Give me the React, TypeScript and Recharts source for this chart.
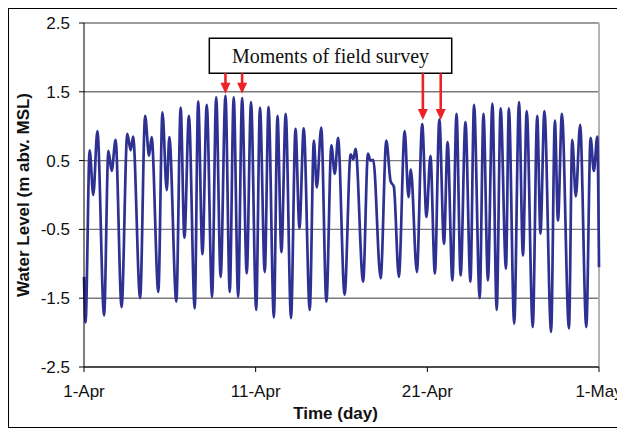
import React from 'react';
import {
  LineChart,
  Line,
  XAxis,
  YAxis,
  CartesianGrid,
  ReferenceLine,
  ReferenceArea,
  ReferenceDot,
} from 'recharts';

// time in days since 1-Apr, read at each turning point of the trace
const days = [
  0.0, 0.09, 0.33, 0.54, 0.78, 1.17, 1.42, 1.61, 1.84, 2.19,
  2.52, 2.72, 2.86, 3.27, 3.56, 3.79, 3.94, 4.33, 4.57, 4.82,
  4.97, 5.38, 5.63, 5.85, 6.11, 6.45, 6.65, 6.9, 7.15, 7.46,
  7.7, 7.96, 8.24, 8.49, 8.72, 8.98, 9.21, 9.48, 9.73, 10.03,
  10.25, 10.53, 10.75, 11.06, 11.27, 11.5, 11.75, 12.06, 12.32, 12.55,
  12.8, 13.15, 13.39, 13.56, 13.82, 14.12, 14.41, 14.61, 14.8, 15.18,
  15.53, 15.69, 15.82, 16.26, 16.54, 16.69, 16.85, 17.28, 17.61, 17.86,
  18.05, 18.34, 18.68, 18.9, 19.04, 19.39, 19.7, 19.95, 20.18, 20.44,
  20.7, 20.97, 21.18, 21.46, 21.7, 21.94, 22.22, 22.51, 22.72, 23.05,
  23.27, 23.53, 23.79, 24.04, 24.27, 24.58, 24.75, 25.06, 25.34, 25.57,
  25.79, 26.14, 26.4, 26.59, 26.82, 27.21, 27.43, 27.61, 27.84, 28.25,
  28.44, 28.65, 28.9, 29.26, 29.51, 29.7, 29.9, 30.0,
];

// water level (m abv. MSL)
const level = [
  -1.19, -1.85, 0.65, 0.0, 0.93, -1.75, 0.64, 0.35, 0.8, -1.63,
  0.89, 0.65, 0.85, -1.5, 1.15, 0.57, 0.84, -1.41, 1.2, 0.07,
  0.84, -1.55, 1.27, -0.62, 1.15, -1.65, 1.36, -0.86, 1.31, -1.48,
  1.42, -1.19, 1.44, -1.41, 1.42, -1.48, 1.41, -1.14, 1.35, -1.67,
  1.27, -1.12, 1.28, -1.78, 1.15, -0.83, 1.18, -1.79, 0.96, -0.48,
  0.97, -1.67, 0.79, 0.11, 0.98, -1.55, 0.72, 0.31, 0.83, -1.45,
  0.59, 0.52, 0.67, -1.26, 0.6, 0.5, 0.51, -1.21, 0.79, 0.2,
  0.12, -1.19, 0.93, -0.03, 0.37, -1.12, 1.03, -0.32, 0.57, -1.14,
  1.1, -0.71, 0.77, -1.24, 1.18, -1.17, 1.06, -1.26, 1.31, -1.5,
  1.18, -1.24, 1.33, -1.67, 1.26, -1.07, 1.26, -1.87, 1.35, -0.88,
  1.22, -1.92, 1.15, -0.56, 1.22, -1.99, 1.08, -0.37, 1.18, -1.94,
  0.8, -0.02, 1.02, -1.92, 0.83, 0.35, 0.85, -1.05,
];

const tickDays = [0, 10, 20, 30];
const tickLabels = ['1-Apr', '11-Apr', '21-Apr', '1-May'];
const levelTicks = [-2.5, -1.5, -0.5, 0.5, 1.5, 2.5];

// field survey moments: day and level of the arrow tip
const surveyDays = [8.24, 9.21, 19.74, 20.78];
const surveyTips = [1.47, 1.47, 1.09, 1.09];

const data = days.map((d, i) => ({ day: d, level: level[i] }));

const RED = '#ec2227';
const sans = '"Liberation Sans", Arial, sans-serif';

const ArrowHead = (props: any) => {
  const { cx, cy } = props;
  return (
    <path d={`M${cx - 5},${cy - 11} L${cx + 5},${cy - 11} L${cx},${cy} Z`} fill={RED} />
  );
};

const YTitle = (props: any) => {
  const vb = props.viewBox;
  const cx = 14;
  const cy = vb.y + vb.height / 2;
  return (
    <text
      x={cx}
      y={cy}
      transform={`rotate(-90, ${cx}, ${cy})`}
      textAnchor="middle"
      dominantBaseline="central"
      fontFamily={sans}
      fontWeight="bold"
      fontSize={17}
      fill="#111"
    >
      Water Level (m abv. MSL)
    </text>
  );
};

const XTitle = (props: any) => {
  const vb = props.viewBox;
  const cx = vb.x + vb.width / 2;
  return (
    <text x={cx - 6} y={vb.y + 52} textAnchor="middle" fontFamily={sans} fontWeight="bold" fontSize={17} fill="#111">
      Time (day)
    </text>
  );
};

export default function App() {
  return (
    <div style={{ width: 614, height: 418, border: '1px solid #000', background: '#fff' }}>
      <LineChart
        width={614}
        height={418}
        data={data}
        margin={{ top: 14, right: 24, left: 0, bottom: 0 }}
        style={{ overflow: 'visible' }}
      >
        <CartesianGrid vertical={false} stroke="#7a7a7a" strokeWidth={1.4} />
        <XAxis
          type="number"
          dataKey="day"
          domain={[0, 30]}
          ticks={tickDays}
          interval={0}
          tickFormatter={(v: number) => tickLabels[tickDays.indexOf(v)]}
          height={60}
          stroke="#000"
          tickSize={5}
          tickMargin={13}
          tick={{ fill: '#111', fontSize: 17, fontFamily: sans }}
          label={<XTitle />}
        />
        <YAxis
          type="number"
          domain={[-2.5, 2.5]}
          ticks={levelTicks}
          interval={0}
          tickFormatter={(v: number) => v.toFixed(1)}
          width={75}
          stroke="#000"
          tickSize={5}
          tickMargin={9}
          tick={{ fill: '#111', fontSize: 17, fontFamily: sans }}
          label={<YTitle />}
        />
        <ReferenceLine x={30} stroke="#b4b4b4" strokeWidth={2} />
        <Line
          type="monotone"
          dataKey="level"
          stroke="#2e3192"
          strokeWidth={2.7}
          dot={false}
          isAnimationActive={false}
        />
        <ReferenceArea
          x1={7.3}
          x2={21.42}
          y1={1.77}
          y2={2.28}
          fill="#fff"
          fillOpacity={1}
          stroke="#000"
          strokeWidth={1.5}
          label={{ value: 'Moments of field survey', position: 'center', fill: '#111', fontFamily: '"Liberation Serif", "Times New Roman", serif', fontSize: 20 }}
        />
        {surveyDays.map((d, i) => (
          <ReferenceLine
            key={`l${i}`}
            segment={[{ x: d, y: 1.77 }, { x: d, y: surveyTips[i] + 0.1 }]}
            stroke={RED}
            strokeWidth={2.6}
          />
        ))}
        {surveyDays.map((d, i) => (
          <ReferenceDot key={`a${i}`} x={d} y={surveyTips[i]} r={5} shape={<ArrowHead />} />
        ))}
      </LineChart>
    </div>
  );
}
